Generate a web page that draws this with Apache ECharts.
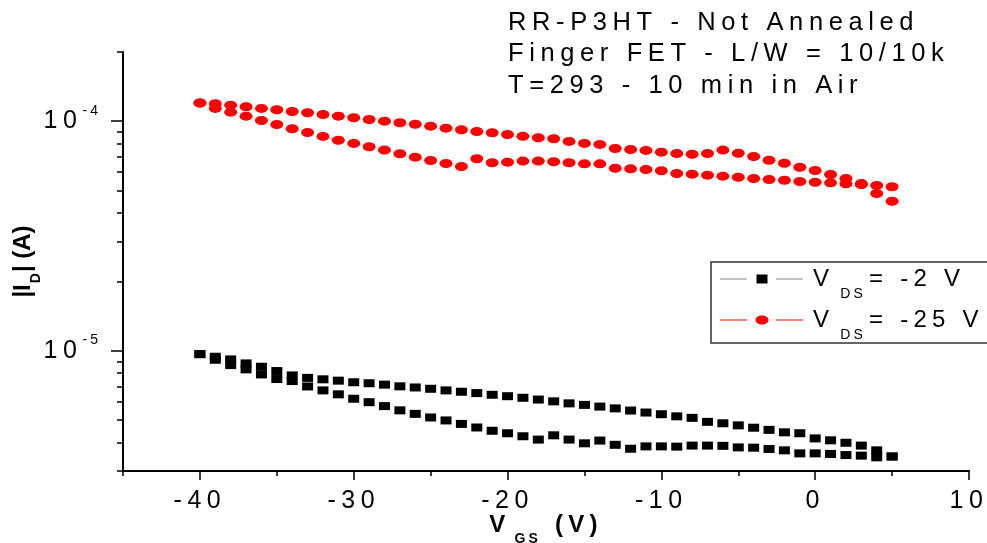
<!DOCTYPE html>
<html><head><meta charset="utf-8">
<script src="https://cdn.jsdelivr.net/npm/echarts@6/dist/echarts.min.js"></script>
<style>html,body{margin:0;padding:0;background:#fff}#c{width:987px;height:543px}</style>
</head><body><div id="c"></div>
<script>
// ---- data ----
const vgs = [-40,-39,-38,-37,-36,-35,-34,-33,-32,-31,-30,-29,-28,-27,-26,-25,-24,-23,-22,-21,-20,-19,-18,-17,-16,-15,-14,-13,-12,-11,-10,-9,-8,-7,-6,-5,-4,-3,-2,-1,0,1,2,3,4,5];
// V_DS = -2 V, two sweeps
const idNeg2SweepA = [9.68e-6,9.43e-6,9.18e-6,8.82e-6,8.53e-6,8.17e-6,7.82e-6,7.63e-6,7.52e-6,7.42e-6,7.30e-6,7.23e-6,7.13e-6,7.01e-6,6.93e-6,6.84e-6,6.73e-6,6.64e-6,6.55e-6,6.44e-6,6.35e-6,6.25e-6,6.14e-6,6.03e-6,5.91e-6,5.82e-6,5.72e-6,5.62e-6,5.50e-6,5.39e-6,5.30e-6,5.19e-6,5.11e-6,4.91e-6,4.84e-6,4.74e-6,4.63e-6,4.53e-6,4.42e-6,4.38e-6,4.16e-6,4.08e-6,3.98e-6,3.87e-6,3.69e-6,3.47e-6];
const idNeg2SweepB = [9.68e-6,9.15e-6,8.67e-6,8.31e-6,7.90e-6,7.54e-6,7.39e-6,7.00e-6,6.73e-6,6.47e-6,6.19e-6,5.98e-6,5.75e-6,5.51e-6,5.32e-6,5.13e-6,4.98e-6,4.81e-6,4.64e-6,4.49e-6,4.38e-6,4.25e-6,4.11e-6,4.29e-6,4.11e-6,3.96e-6,4.07e-6,3.90e-6,3.75e-6,3.84e-6,3.84e-6,3.83e-6,3.87e-6,3.87e-6,3.86e-6,3.80e-6,3.79e-6,3.74e-6,3.69e-6,3.58e-6,3.58e-6,3.56e-6,3.52e-6,3.50e-6,3.44e-6,3.47e-6];
// V_DS = -25 V, two sweeps
const idNeg25SweepA = [1.200e-4,1.190e-4,1.174e-4,1.155e-4,1.136e-4,1.121e-4,1.102e-4,1.088e-4,1.069e-4,1.051e-4,1.035e-4,1.017e-4,1.000e-4,9.84e-5,9.70e-5,9.51e-5,9.32e-5,9.17e-5,9.02e-5,8.90e-5,8.75e-5,8.60e-5,8.47e-5,8.38e-5,8.16e-5,8.00e-5,7.92e-5,7.60e-5,7.53e-5,7.46e-5,7.33e-5,7.23e-5,7.18e-5,7.23e-5,7.48e-5,7.25e-5,7.02e-5,6.76e-5,6.56e-5,6.30e-5,6.10e-5,5.86e-5,5.63e-5,5.35e-5,5.25e-5,5.18e-5];
const idNeg25SweepB = [1.200e-4,1.136e-4,1.094e-4,1.051e-4,1.007e-4,9.67e-5,9.27e-5,8.93e-5,8.58e-5,8.26e-5,8.00e-5,7.74e-5,7.48e-5,7.21e-5,6.97e-5,6.74e-5,6.54e-5,6.35e-5,6.86e-5,6.59e-5,6.63e-5,6.70e-5,6.70e-5,6.66e-5,6.59e-5,6.52e-5,6.52e-5,6.24e-5,6.20e-5,6.16e-5,6.08e-5,5.92e-5,5.88e-5,5.82e-5,5.76e-5,5.70e-5,5.63e-5,5.57e-5,5.53e-5,5.46e-5,5.42e-5,5.39e-5,5.34e-5,5.30e-5,4.84e-5,4.48e-5];

const seriesNames = ['V_DS= -2 V', 'V_DS= -25 V'];
const xMajorTicks = [-40,-30,-20,-10,0,10];
const xMinorTicks = [-45,-35,-25,-15,-5,5];
const yMajorTicks = [1e-5,1e-4];
const yMinorTicks = [3e-6,4e-6,5e-6,6e-6,7e-6,8e-6,9e-6,2e-5,3e-5,4e-5,5e-5,6e-5,7e-5,8e-5,9e-5,2e-4];
const titleLines = ['RR-P3HT - Not Annealed','Finger FET - L/W = 10/10k','T=293 - 10 min in Air'];

// wide letter spacing like the original figure (except fonts flagged "tightsp")
(function(){
  const P = CanvasRenderingContext2D.prototype;
  const f = P.fillText, m = P.measureText;
  function ls(ctx){
    const font = ctx.font || '';
    if (/tightsp/.test(font)) { ctx.letterSpacing = '0px'; return; }
    const r = /(\d+(?:\.\d+)?)px/.exec(font);
    ctx.letterSpacing = (r ? (parseFloat(r[1]) * 0.22).toFixed(2) : 0) + 'px';
  }
  P.fillText = function(){ ls(this); return f.apply(this, arguments); };
  P.measureText = function(){ ls(this); return m.apply(this, arguments); };
})();

const FONT = 'Liberation Sans, Arial, sans-serif';
const FONT_TIGHT = 'Liberation Sans, tightsp, Arial, sans-serif';
const pairs = (ys) => vgs.map((v, i) => [v, ys[i]]);

const chart = echarts.init(document.getElementById('c'), null, {renderer: 'canvas'});
const gridL = 123, gridT = 52, gridW = 846, gridH = 419;

const legendRich = {
  v: {fontSize: 24, fill: '#000', fontFamily: FONT},
  s: {fontSize: 14, fill: '#000', fontFamily: FONT, padding: [30, 3, 0, 6]}
};

const option = {
  backgroundColor: '#fff',
  animation: false,
  textStyle: {fontFamily: FONT},
  title: {
    text: titleLines.join('\n'), left: 503, top: 2,
    textStyle: {fontFamily: FONT, fontSize: 25.5, fontWeight: 'normal', color: '#000', lineHeight: 31.5}
  },
  grid: {left: gridL, top: gridT, width: gridW, height: gridH, containLabel: false, outerBoundsMode: 'none'},
  xAxis: [{
    type: 'value', min: -45, max: 10,
    axisLine: {show: true, onZero: false, lineStyle: {color: '#000', width: 2}},
    axisTick: {show: true, length: 9, customValues: xMajorTicks, lineStyle: {color: '#000', width: 1.5}},
    axisLabel: {show: true, customValues: xMajorTicks, margin: 15, color: '#000', fontSize: 25, fontFamily: FONT},
    splitLine: {show: false},
    name: '{a|V}{s|GS}{a| (V)}', nameLocation: 'middle', nameGap: 32, nameMoveOverlap: false,
    nameTextStyle: {rich: {
      a: {fontSize: 24, fontWeight: 'bold', color: '#000', fontFamily: FONT},
      s: {fontSize: 14, fontWeight: 'bold', color: '#000', fontFamily: FONT, padding: [28, 2, 0, 4]}
    }}
  }, {
    type: 'value', min: -45, max: 10, position: 'bottom',
    axisLine: {show: false, onZero: false},
    axisTick: {show: true, length: 5, customValues: xMinorTicks, lineStyle: {color: '#000', width: 1.5}},
    axisLabel: {show: false}, splitLine: {show: false}
  }],
  yAxis: [{
    type: 'log', logBase: 10, min: 3e-6, max: 2e-4, position: 'left',
    axisLine: {show: true, onZero: false, lineStyle: {color: '#000', width: 2}},
    axisTick: {show: true, length: 12, customValues: yMajorTicks, lineStyle: {color: '#000', width: 1.5}},
    axisLabel: {
      show: true, customValues: yMajorTicks, margin: 22,
      formatter: function (v) { return '{b|10}{s|' + Math.round(Math.log10(v)) + '}'; },
      rich: {
        b: {fontSize: 25, color: '#000', fontFamily: FONT},
        s: {fontSize: 14, color: '#000', fontFamily: FONT, padding: [0, 0, 21, 0]}
      }
    },
    splitLine: {show: false},
    name: '{a||I}{s|D}{a|| (A)}', nameLocation: 'middle', nameGap: 80, nameRotate: 90, nameMoveOverlap: false,
    nameTextStyle: {rich: {
      a: {fontSize: 24, fontWeight: 'bold', color: '#000', fontFamily: FONT_TIGHT},
      s: {fontSize: 14, fontWeight: 'bold', color: '#000', fontFamily: FONT_TIGHT, padding: [26, 1, 0, 1]}
    }}
  }, {
    type: 'log', logBase: 10, min: 3e-6, max: 2e-4, position: 'left',
    axisLine: {show: false, onZero: false},
    axisTick: {show: true, length: 6, customValues: yMinorTicks, lineStyle: {color: '#000', width: 1.5}},
    axisLabel: {show: false}, splitLine: {show: false}
  }],
  series: [{
    name: seriesNames[0], type: 'scatter', xAxisIndex: 0, yAxisIndex: 0,
    symbol: 'rect', symbolSize: [11, 8], itemStyle: {color: '#000', opacity: 1},
    data: pairs(idNeg2SweepA).concat(pairs(idNeg2SweepB))
  }, {
    name: seriesNames[1], type: 'scatter', xAxisIndex: 0, yAxisIndex: 0,
    symbol: 'circle', symbolSize: [13, 9], itemStyle: {color: '#ff0000', opacity: 1},
    data: pairs(idNeg25SweepA).concat(pairs(idNeg25SweepB))
  }],
  graphic: [
    {type: 'rect', shape: {x: 711, y: 262, width: 300, height: 81}, style: {fill: '#fff', stroke: '#333', lineWidth: 1.5}, z: 10},
    {type: 'line', shape: {x1: 720, y1: 279, x2: 747, y2: 279}, style: {stroke: '#888', lineWidth: 1}, z: 11},
    {type: 'line', shape: {x1: 776, y1: 279, x2: 803, y2: 279}, style: {stroke: '#888', lineWidth: 1}, z: 11},
    {type: 'rect', shape: {x: 756.5, y: 274.5, width: 11, height: 9}, style: {fill: '#000'}, z: 11},
    {type: 'line', shape: {x1: 720, y1: 320, x2: 747, y2: 320}, style: {stroke: '#ff0000', lineWidth: 1}, z: 11},
    {type: 'line', shape: {x1: 776, y1: 320, x2: 803, y2: 320}, style: {stroke: '#ff0000', lineWidth: 1}, z: 11},
    {type: 'ellipse', shape: {cx: 762, cy: 320, rx: 6.5, ry: 4.5}, style: {fill: '#ff0000'}, z: 11},
    {type: 'text', x: 813, y: 279, z: 11, style: {
      text: '{v|V}{s|DS}{v|= -2 V}', verticalAlign: 'middle', align: 'left', rich: legendRich
    }},
    {type: 'text', x: 813, y: 320, z: 11, style: {
      text: '{v|V}{s|DS}{v|= -25 V}', verticalAlign: 'middle', align: 'left', rich: legendRich
    }}
  ]
};
chart.setOption(option);
</script></body></html>
